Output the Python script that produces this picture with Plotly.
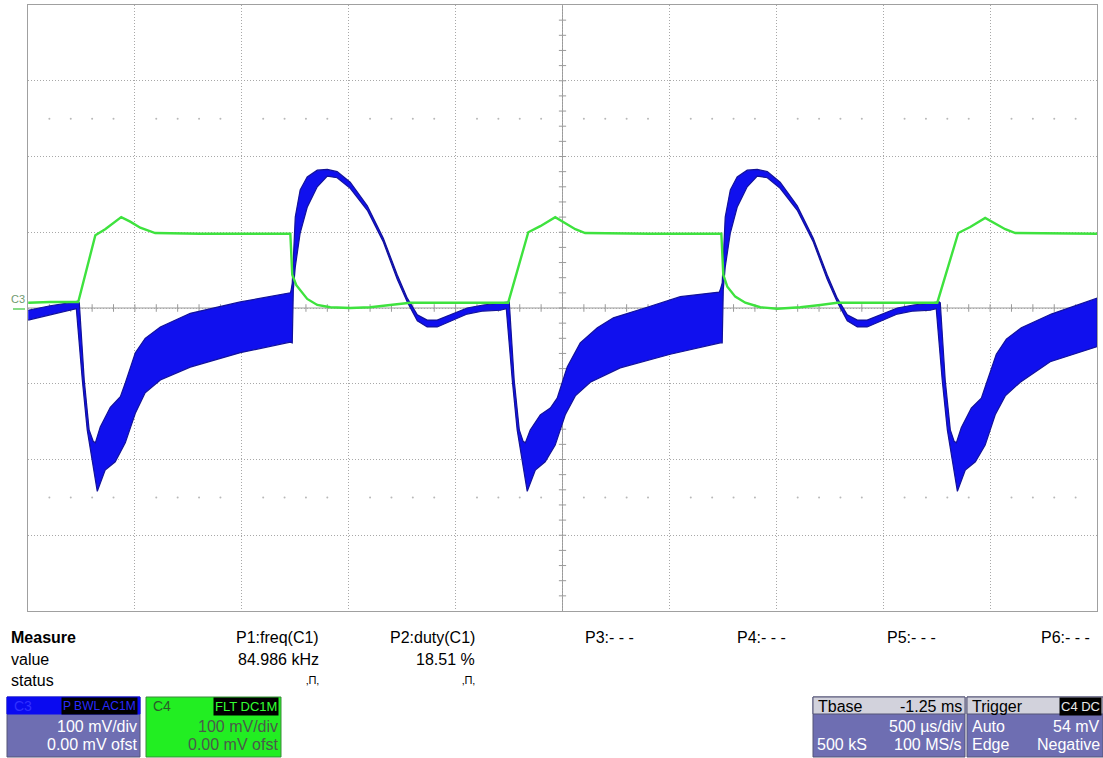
import plotly.graph_objects as go

# ---------------- data (time in ms, amplitude in mV) ----------------
# Channel C4 (green)
c4_t = [-1.249, -1.146, -1.015, -0.935, -0.889, -0.842, -0.814, -0.772, -0.725, -0.655,
        -0.444, -0.023, -0.014, 0.005, 0.023, 0.056, 0.103, 0.164, 0.257, 0.351,
        0.444, 0.538, 0.725, 0.865, 0.996,
        1.090, 1.146, 1.216, 1.263, 1.310, 1.356, 1.660, 1.993, 2.002, 2.021,
        2.058, 2.105, 2.175, 2.254, 2.362, 2.456, 2.535, 2.736, 3.003,
        3.101, 3.157, 3.227, 3.274, 3.321, 3.368, 3.578, 3.751]
c4_mv = [7, 8, 8, 96, 104, 114, 120, 114, 106, 99,
         98, 98, 44, 30, 24, 12, 4, 1, 0, 1,
         4, 7, 7, 7, 7,
         100, 108, 120, 112, 104, 99, 98, 98, 44, 28,
         15, 7, 1, -1, 1, 4, 7, 7, 7,
         99, 107, 119, 112, 104, 99, 98, 98]

# Channel C3 (blue) – upper and lower envelope of the rippled band
c3_upper_t = [-1.249, -1.146, -1.029, -1.020, -1.010, -0.987, -0.964, -0.945, -0.935, -0.912,
              -0.865, -0.818, -0.795, -0.748, -0.702, -0.631, -0.491, -0.257, -0.023, -0.019,
              -0.014, 0.000, 0.023, 0.056, 0.103, 0.150, 0.196, 0.257, 0.337, 0.412,
              0.477, 0.524, 0.571, 0.617, 0.664, 0.725, 0.804, 0.879, 0.959, 0.992, 1.001,
              1.024, 1.048, 1.066, 1.076, 1.099, 1.146, 1.193, 1.225, 1.272, 1.333,
              1.413, 1.488, 1.646, 1.801, 1.983, 1.988, 1.997, 2.011, 2.035, 2.067,
              2.114, 2.161, 2.208, 2.268, 2.348, 2.423, 2.488, 2.535, 2.582, 2.629,
              2.675, 2.736, 2.816, 2.891, 2.970, 3.003, 3.012,
              3.017, 3.040, 3.064, 3.082, 3.092, 3.115, 3.162, 3.209, 3.232, 3.279,
              3.326, 3.396, 3.536, 3.751]
c3_upper_mv = [-3, 3, 8, 9, 7, -95, -161, -176, -178, -157,
               -131, -117, -99, -59, -40, -25, -7, 8, 20, 24,
               33, 120, 156, 173, 182, 183, 180, 166, 135, 92,
               44, 13, -9, -16, -16, -9, 0, 4, 7, 8, 8,
               -95, -161, -176, -178, -161, -141, -132, -119, -78, -46,
               -26, -13, 1, 15, 21, 24, 33, 120, 156, 173,
               182, 183, 180, 166, 135, 92, 44, 13, -9, -16,
               -16, -9, 0, 4, 7, 8, 8,
               7, -95, -161, -176, -178, -158, -132, -119, -100, -61,
               -41, -26, -8, 13]
c3_lower_t = [-1.249, -1.146, -1.024, -0.996, -0.973, -0.949, -0.926, -0.889, -0.842, -0.795,
              -0.748, -0.702, -0.631, -0.491, -0.257, -0.023, -0.014, -0.009, 0.000, 0.023,
              0.056, 0.103, 0.150, 0.196, 0.257, 0.337, 0.412, 0.477, 0.524, 0.571,
              0.617, 0.664, 0.725, 0.804, 0.879, 0.959, 0.987,
              1.015, 1.038, 1.062, 1.085, 1.123, 1.169, 1.216, 1.263, 1.310, 1.380,
              1.520, 1.754, 1.988, 1.997, 2.002, 2.011, 2.035, 2.067, 2.114, 2.161,
              2.208, 2.268, 2.348, 2.423, 2.488, 2.535, 2.582, 2.629, 2.675, 2.736,
              2.816, 2.891, 2.970, 2.998,
              3.026, 3.050, 3.073, 3.097, 3.134, 3.181, 3.227, 3.274, 3.321, 3.391,
              3.531, 3.751]
c3_lower_mv = [-16, -9, -1, -95, -161, -201, -242, -214, -203, -178,
               -139, -112, -95, -78, -59, -45, -46, 24, 54, 99,
               133, 160, 174, 172, 158, 129, 87, 38, 8, -17,
               -25, -25, -18, -8, -4, -3, -1,
               -95, -161, -201, -242, -214, -203, -181, -141, -116, -98,
               -79, -61, -46, -46, 24, 54, 99, 133, 160, 174,
               172, 158, 129, 87, 38, 8, -17, -25, -25, -18,
               -8, -4, -3, -1,
               -95, -161, -201, -242, -214, -203, -181, -141, -116, -98,
               -71, -51]

trigger_time_ms = 0.0
trigger_level_mv = 54

measure_row_labels = ["Measure", "value", "status"]
param_names = ["P1:freq(C1)", "P2:duty(C1)", "P3:- - -", "P4:- - -", "P5:- - -", "P6:- - -"]
param_values = ["84.986 kHz", "18.51 %"]
param_status = ["\u201a\u03a0\u201a", "\u201a\u03a0\u201a"]

c3_lines = ["100 mV/div", "0.00 mV ofst"]
c4_lines = ["100 mV/div", "0.00 mV ofst"]
tbase_info = ["Tbase", "-1.25 ms", "500 \u00b5s/div", "500 kS", "100 MS/s"]
trig_info = ["Trigger", "Auto", "54 mV", "Edge", "Negative"]

# ---------------- geometry helpers ----------------
W, H = 1103, 758
L, R, T, B = 28, 1097, 5, 611
X0, X1 = -1.25, 3.75
Y0, Y1 = -400, 400
FONT = "Liberation Sans, Arial, sans-serif"
FS = 16


def pxx(x):
    return (x - L) / (R - L)


def pxy(y):
    return (B - y) / (B - T)


fig = go.Figure()

# graticule decorations: dotted rows at +-2.5 div and minor ticks on centre axes
dx, dy = [], []
for k in range(1, 50):
    if k % 5 == 0:
        continue
    for yy in (250, -250):
        dx.append(X0 + 0.1 * k)
        dy.append(yy)
fig.add_trace(go.Scatter(x=dx, y=dy, mode="markers", hoverinfo="skip",
                         marker=dict(size=2, color="#b8b8b8"), showlegend=False))

tx, ty = [], []
for k in range(1, 50):
    xx = X0 + 0.1 * k
    tx += [xx, xx, None]
    ty += [-5, 5, None]
for k in range(1, 40):
    yy = Y0 + 20 * k
    tx += [1.25 - 0.017, 1.25 + 0.017, None]
    ty += [yy, yy, None]
fig.add_trace(go.Scatter(x=tx, y=ty, mode="lines", hoverinfo="skip",
                         line=dict(color="#9a9a9a", width=1), showlegend=False))

# C3 band (filled polygon between envelopes)
poly_x = c3_upper_t + c3_lower_t[::-1]
poly_y = c3_upper_mv + c3_lower_mv[::-1]
fig.add_trace(go.Scatter(x=poly_x, y=poly_y, mode="lines", fill="toself",
                         fillcolor="#1010ee", line=dict(color="#12129a", width=1.2),
                         hoverinfo="skip", showlegend=False))

# C4 trace
fig.add_trace(go.Scatter(x=c4_t, y=c4_mv, mode="lines",
                         line=dict(color="#3ee23e", width=2.4),
                         hoverinfo="skip", showlegend=False))

# trigger position & level markers
fig.add_trace(go.Scatter(x=[trigger_time_ms], y=[Y0 - 9], mode="markers", cliponaxis=False,
                         marker=dict(symbol="triangle-up", size=9, color="#3ee23e"),
                         hoverinfo="skip", showlegend=False))
fig.add_trace(go.Scatter(x=[X1 + 0.017], y=[trigger_level_mv], mode="markers", cliponaxis=False,
                         marker=dict(symbol="triangle-left", size=8, color="#3ee23e"),
                         hoverinfo="skip", showlegend=False))

shapes = []
# centre axes
shapes.append(dict(type="line", xref="x", yref="y", x0=X0, x1=X1, y0=0, y1=0,
                   line=dict(color="#9a9a9a", width=1), layer="below"))
shapes.append(dict(type="line", xref="x", yref="y", x0=1.25, x1=1.25, y0=Y0, y1=Y1,
                   line=dict(color="#9a9a9a", width=1), layer="below"))
# ground dash on the left
shapes.append(dict(type="line", xref="paper", yref="paper", x0=pxx(13), x1=pxx(25),
                   y0=pxy(309), y1=pxy(309), line=dict(color="#5fcf5f", width=1.5)))

annotations = []


def txt(x, y, s, anchor="left", color="black", size=FS, bold=False, bg=None):
    a = dict(xref="paper", yref="paper", x=pxx(x), y=pxy(y), text=("<b>%s</b>" % s) if bold else s,
             showarrow=False, xanchor=anchor, yanchor="middle",
             font=dict(family=FONT, size=size, color=color))
    if bg:
        a["bgcolor"] = bg
        a["borderpad"] = 1
    annotations.append(a)


txt(9, 299, "C3", color="#6f9a6f", size=11)

# measurement table
txt(9, 637, measure_row_labels[0], bold=True)
txt(9, 659, measure_row_labels[1])
txt(9, 680, measure_row_labels[2])
txt(321, 637, param_names[0], anchor="right")
txt(477, 637, param_names[1], anchor="right")
txt(583, 637, param_names[2])
txt(735, 637, param_names[3])
txt(885, 637, param_names[4])
txt(1039, 637, param_names[5])
txt(321, 659, param_values[0], anchor="right")
txt(477, 659, param_values[1], anchor="right")
txt(321, 680, param_status[0], anchor="right", size=11)
txt(477, 680, param_status[1], anchor="right", size=11)


def box(x0, x1, y0, y1, color, lw_color="#555577"):
    shapes.append(dict(type="rect", xref="paper", yref="paper", x0=pxx(x0), x1=pxx(x1),
                       y0=pxy(y1), y1=pxy(y0), fillcolor=color,
                       line=dict(color=lw_color, width=1), layer="above"))


PURPLE = "#6e6eb2"
# C3 box
box(7, 140, 697, 757, PURPLE)
box(7, 140, 697, 714, "#0a0af0", lw_color="#0a0af0")
txt(12, 706, "C3", color="#3030ff", size=14)
txt(138, 706, "P BWL AC1M", anchor="right", color="#2a2aff", size=12, bg="#000000")
txt(139, 726, c3_lines[0], anchor="right", color="#ffffff")
txt(139, 745, c3_lines[1], anchor="right", color="#ffffff")

# C4 box
box(146, 281, 697, 757, "#22ee22", lw_color="#3a8a3a")
txt(151, 706, "C4", color="#2a5a2a", size=14)
txt(279, 706, "FLT DC1M", anchor="right", color="#33ff33", size=13, bg="#000000")
txt(280, 726, c4_lines[0], anchor="right", color="#4a5a4a")
txt(280, 745, c4_lines[1], anchor="right", color="#4a5a4a")

# Tbase box
box(813, 965, 697, 757, PURPLE)
box(813, 965, 697, 714, "#d2d2dc")
txt(816, 706, tbase_info[0], color="#000000")
txt(964, 706, tbase_info[1], anchor="right", color="#000000")
txt(964, 726, tbase_info[2], anchor="right", color="#ffffff")
txt(815, 745, tbase_info[3], color="#ffffff")
txt(964, 745, tbase_info[4], anchor="right", color="#ffffff")

# Trigger box
box(967, 1103, 697, 757, PURPLE)
box(967, 1103, 697, 714, "#d2d2dc")
txt(970, 706, trig_info[0], color="#000000")
txt(1102, 706, "C4 DC", anchor="right", color="#e8e8e8", size=13, bg="#000000")
txt(970, 726, trig_info[1], color="#ffffff")
txt(1102, 726, trig_info[2], anchor="right", color="#ffffff")
txt(970, 745, trig_info[3], color="#ffffff")
txt(1102, 745, trig_info[4], anchor="right", color="#ffffff")

fig.update_layout(
    width=W, height=H,
    margin=dict(l=L, r=W - R, t=T, b=H - B, pad=0),
    paper_bgcolor="white", plot_bgcolor="white",
    showlegend=False,
    shapes=shapes, annotations=annotations,
    xaxis=dict(range=[X0, X1], tick0=X0, dtick=0.5, showgrid=True, gridcolor="#a8a8a8",
               griddash="1px,2px", gridwidth=1, zeroline=False, showticklabels=False,
               ticks="", showline=True, mirror=True, linecolor="#a0a0a0", linewidth=1,
               fixedrange=True),
    yaxis=dict(range=[Y0, Y1], tick0=Y0, dtick=100, showgrid=True, gridcolor="#a8a8a8",
               griddash="1px,2px", gridwidth=1, zeroline=False, showticklabels=False,
               ticks="", showline=True, mirror=True, linecolor="#a0a0a0", linewidth=1,
               fixedrange=True),
)

fig.write_html("out.html")
